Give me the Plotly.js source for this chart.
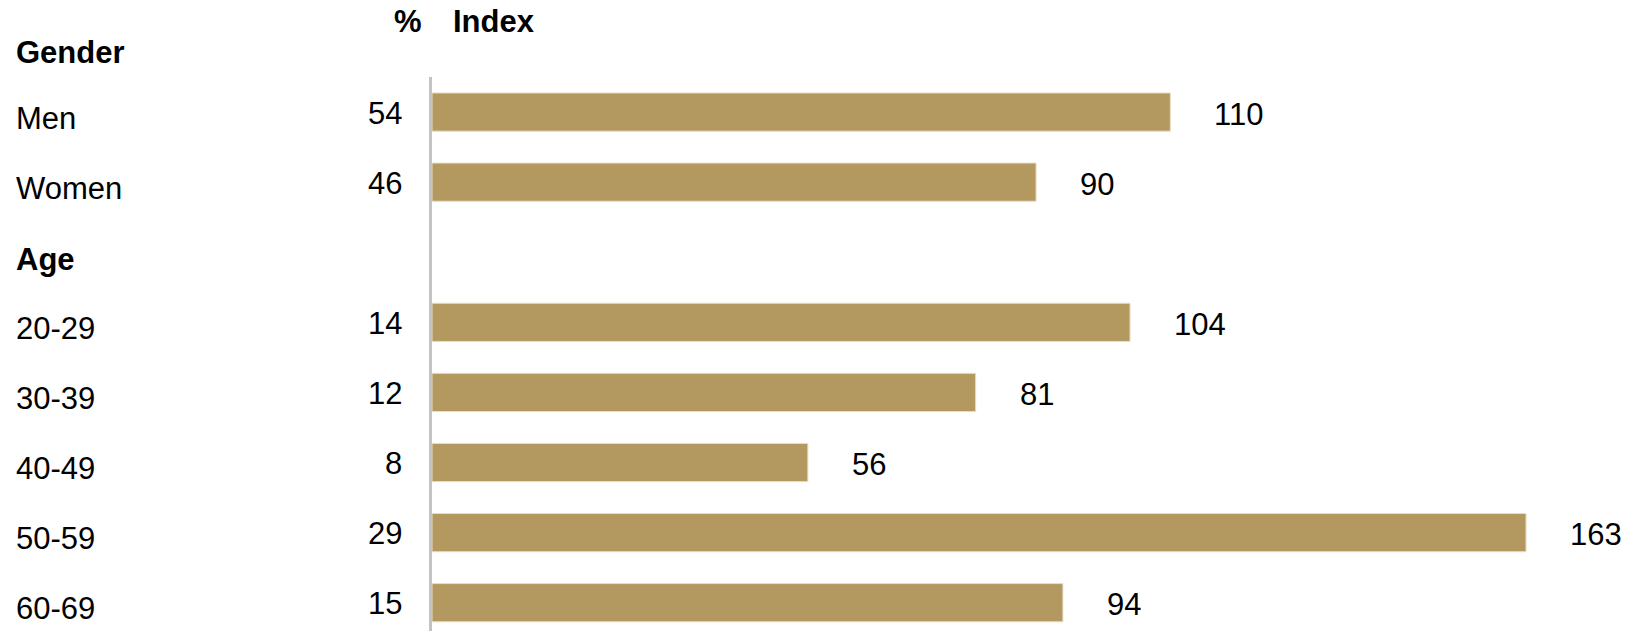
<!DOCTYPE html>
<html>
<head>
<meta charset="utf-8">
<script src="https://cdn.plot.ly/plotly-3.0.1.min.js"></script>
<style>
  html, body { margin: 0; padding: 0; background: #ffffff; }
  #chart { width: 1630px; height: 631px; }
</style>
</head>
<body>
<div id="chart"></div>
<script>
// ---- data ----
const groupNames = ['Gender', 'Age'];
const groupCategories = [
  ['Men', 'Women'],
  ['20-29', '30-39', '40-49', '50-59', '60-69']
];
const percentValues = [
  [54, 46],
  [14, 12, 8, 29, 15]
];
const indexValues = [
  [110, 90],
  [104, 81, 56, 163, 94]
];
const headerPercent = '%';
const headerIndex = 'Index';

// ---- geometry helpers (layout only) ----
const W = 1630, H = 631;
const M = {l: 432, r: 10, t: 77, b: 0};
const plotW = W - M.l - M.r, plotH = H - M.t - M.b;
const pxX = px => (px - M.l) / plotW;
const pxY = py => (H - M.b - py) / plotH;

const FONT = 'Arial, "Liberation Sans", Helvetica, sans-serif';
const FS = 31;
const txt = (extra) => Object.assign({showarrow: false, font: {family: FONT, size: FS, color: '#000'}}, extra);

const barY = [], barX = [];
const annotations = [];
let row = 0;
groupNames.forEach((g, gi) => {
  const headerRow = row;
  if (headerRow === 0) {
    annotations.push(txt({xref: 'paper', yref: 'paper', x: pxX(14), y: pxY(52), xanchor: 'left', yanchor: 'middle',
      text: '<b>' + g + '</b>'}));
  } else {
    annotations.push(txt({xref: 'paper', yref: 'y', x: pxX(14), y: headerRow, yshift: -7, xanchor: 'left', yanchor: 'middle',
      text: '<b>' + g + '</b>'}));
  }
  row++;
  groupCategories[gi].forEach((c, ci) => {
    const v = indexValues[gi][ci];
    barY.push(row);
    barX.push(v);
    annotations.push(txt({xref: 'paper', yref: 'y', x: pxX(14), y: row, yshift: -6, xanchor: 'left', yanchor: 'middle',
      text: c}));
    annotations.push(txt({xref: 'paper', yref: 'y', x: pxX(404), y: row, yshift: -1, xanchor: 'right', yanchor: 'middle',
      text: String(percentValues[gi][ci])}));
    annotations.push(txt({xref: 'x', yref: 'y', x: v, y: row, xshift: 42, yshift: -2, xanchor: 'left', yanchor: 'middle',
      text: String(v)}));
    row++;
  });
});
annotations.push(txt({xref: 'paper', yref: 'paper', x: pxX(424), y: pxY(22), xanchor: 'right', yanchor: 'middle',
  text: '<b>' + headerPercent + '</b>'}));
annotations.push(txt({xref: 'paper', yref: 'paper', x: pxX(451), y: pxY(22), xanchor: 'left', yanchor: 'middle',
  text: '<b>' + headerIndex + '</b>'}));

const trace = {
  type: 'bar',
  orientation: 'h',
  x: barX,
  y: barY,
  width: 0.545,
  marker: {color: '#B39960', line: {color: '#E8DEC8', width: 1}},
  cliponaxis: false,
  hoverinfo: 'skip'
};

const layout = {
  width: W,
  height: H,
  margin: {l: M.l, r: M.r, t: M.t, b: M.b, pad: 0},
  paper_bgcolor: '#ffffff',
  plot_bgcolor: '#ffffff',
  showlegend: false,
  xaxis: {range: [0, 177], visible: false, fixedrange: true},
  yaxis: {
    range: [1 + (631 - 112) / 70.1, 0.5],
    showline: true, linecolor: '#C3C3C3', linewidth: 3,
    showgrid: false, zeroline: false, showticklabels: false, ticks: '',
    fixedrange: true
  },
  annotations: annotations,
  font: {family: FONT, size: FS, color: '#000'}
};

Plotly.newPlot('chart', [trace], layout, {displayModeBar: false, staticPlot: true});
</script>
</body>
</html>
